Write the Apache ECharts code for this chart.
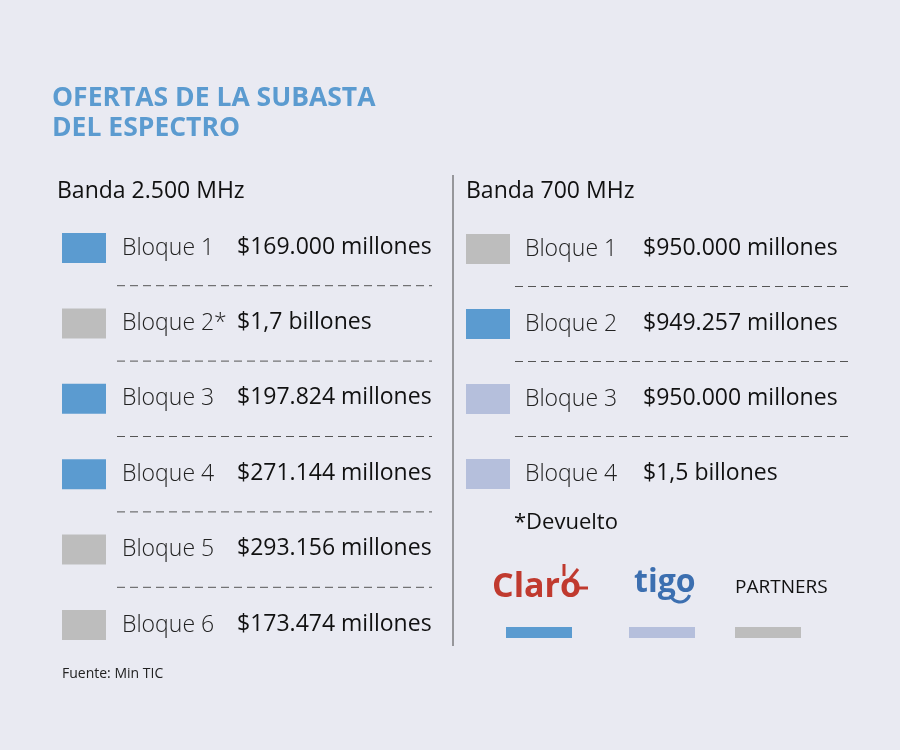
<!DOCTYPE html>
<html>
<head>
<meta charset="utf-8"/>
<title>Ofertas de la subasta del espectro</title>
<script src="https://cdn.jsdelivr.net/npm/echarts@6/dist/echarts.min.js"></script>
<style>
  html, body { margin: 0; padding: 0; background: #e9eaf2; }
  #main { width: 900px; height: 750px; }
</style>
</head>
<body>
<div id="main"></div>
<script>
// datos
var leftLabels = ['Bloque 1', 'Bloque 2*', 'Bloque 3', 'Bloque 4', 'Bloque 5', 'Bloque 6'];
var leftValues = ['$169.000 millones', '$1,7 billones', '$197.824 millones', '$271.144 millones', '$293.156 millones', '$173.474 millones'];
var leftOwner = ['claro', 'partners', 'claro', 'claro', 'partners', 'partners'];
var rightLabels = ['Bloque 1', 'Bloque 2', 'Bloque 3', 'Bloque 4'];
var rightValues = ['$950.000 millones', '$949.257 millones', '$950.000 millones', '$1,5 billones'];
var rightOwner = ['partners', 'claro', 'tigo', 'tigo'];
var ownerColor = { claro: '#5b9bd0', tigo: '#b5bfdc', partners: '#bdbdbd' };

var font = '"Open Sans", "Noto Sans", sans-serif';
var g = [];

function txt(x, y, s, size, color, weight, extra) {
    var o = { type: 'text', x: x, y: y, style: { text: s, font: (weight || 'normal') + ' ' + size + 'px ' + font, fill: color || '#111', textVerticalAlign: 'middle' } };
    if (extra) Object.assign(o.style, extra);
    g.push(o);
}

// titulo
txt(52, 98, 'OFERTAS DE LA SUBASTA', 26.5, '#5b9bd0', 'bold');
txt(52, 128, 'DEL ESPECTRO', 26.5, '#5b9bd0', 'bold');

txt(57, 191, 'Banda 2.500 MHz', 23, '#111');
txt(466, 191, 'Banda 700 MHz', 23, '#111');

// divisor
g.push({ type: 'line', shape: { x1: 453, y1: 175, x2: 453, y2: 646 }, style: { stroke: '#444', lineWidth: 1 } });

// bloques
function column(labels, values, owners, x0, y0, step, labX, valX, dashX1, dashX2) {
    labels.forEach(function (l, i) {
        var y = y0 + i * step;
        g.push({ type: 'rect', shape: { x: x0, y: y - 15, width: 44, height: 30 }, style: { fill: ownerColor[owners[i]] } });
        txt(labX, y, l, 23, '#222', '300');
        txt(valX, y - 1, values[i], 23, '#111', 'normal');
        if (i < labels.length - 1) {
            var dy = y + step / 2;
            g.push({ type: 'line', shape: { x1: dashX1, y1: dy, x2: dashX2, y2: dy }, style: { stroke: '#555', lineWidth: 1, lineDash: [8, 5] } });
        }
    });
}
column(leftLabels, leftValues, leftOwner, 62, 248, 75.4, 122, 237, 117, 432);
column(rightLabels, rightValues, rightOwner, 466, 249, 75, 525, 643, 515, 850);

txt(514, 523, '*Devuelto', 22, '#111');

// logos
txt(492, 587, 'Claro', 34, '#c03a2f', 'bold');
g.push({ type: 'line', shape: { x1: 564, y1: 564, x2: 564, y2: 576 }, style: { stroke: '#c03a2f', lineWidth: 3 } });
g.push({ type: 'line', shape: { x1: 570, y1: 579, x2: 578, y2: 569 }, style: { stroke: '#c03a2f', lineWidth: 3 } });
g.push({ type: 'line', shape: { x1: 576, y1: 588, x2: 588, y2: 588 }, style: { stroke: '#c03a2f', lineWidth: 3 } });
txt(634, 583, 'tigo', 32, '#3c6fb0', 'bold');
g.push({ type: 'arc', shape: { cx: 680, cy: 592, r: 10, startAngle: 0.3, endAngle: Math.PI - 0.3 }, style: { stroke: '#3c6fb0', lineWidth: 3, fill: null } });
txt(735, 588, 'PARTNERS', 19, '#111');

[['claro', 506], ['tigo', 629], ['partners', 735]].forEach(function (p) {
    g.push({ type: 'rect', shape: { x: p[1], y: 627, width: 66, height: 11 }, style: { fill: ownerColor[p[0]] } });
});

txt(62, 674, 'Fuente: Min TIC', 14, '#222');

var chart = echarts.init(document.getElementById('main'));
chart.setOption({ backgroundColor: '#e9eaf2', graphic: g });
</script>
</body>
</html>
